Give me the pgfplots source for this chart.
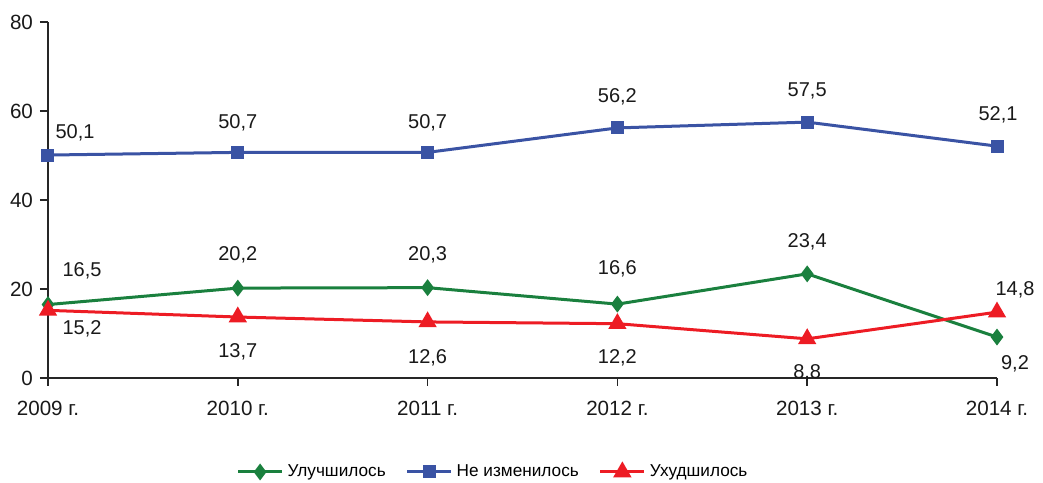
\documentclass[border=0pt]{standalone}
\usepackage{fontspec}
\setmainfont{Liberation Sans}
\usepackage{pgfplots}
\pgfplotsset{compat=1.18}
\definecolor{cgreen}{RGB}{26,128,62}
\definecolor{cblue}{RGB}{58,83,164}
\definecolor{cred}{RGB}{237,28,36}
\pgfplotsset{
  lbl/.style={
    nodes near coords,
    point meta=explicit symbolic,
    visualization depends on={\thisrow{dx}\as\dx},
    visualization depends on={\thisrow{dy}\as\dy},
    every node near coord/.append style={anchor=center, xshift=\dx pt, yshift=\dy pt, font=\fontsize{10}{11}\selectfont, text=black!90},
  },
}
\begin{document}
\begin{tikzpicture}
\begin{axis}[
  scale only axis,
  width=474.5pt, height=178pt,
  xmin=0, xmax=5, ymin=0, ymax=80,
  axis x line=bottom, axis y line=left,
  axis line style={-, line width=0.8pt, black!85},
  xtick={0,1,2,3,4,5},
  xticklabels={2009 г.,2010 г.,2011 г.,2012 г.,2013 г.,2014 г.},
  ytick={0,20,40,60,80},
  tick align=outside,
  major tick length=4pt,
  tick style={line width=0.8pt, black!85},
  tick label style={font=\fontsize{10.3}{11}\selectfont, text=black!90},
  xticklabel style={yshift=-4pt},
  /pgf/number format/assume math mode=true,
  clip=false,
  legend columns=3,
  legend style={draw=none, fill=none, at={(0.47,0)}, anchor=center, yshift=-47pt,
    font=\fontsize{8.6}{10}\selectfont,
    /tikz/every even column/.append style={column sep=8pt}},
  legend cell align=left,
  legend image code/.code={\draw[mark repeat=2,mark phase=2] plot coordinates {(0pt,0pt) (11pt,0pt) (22pt,0pt)};},
]
\addplot[color=cgreen, line width=1.5pt, mark=diamond*, mark size=3pt, mark options={solid, fill=cgreen}, lbl]
table[x=x, y=y, meta=lab] {
x y lab dx dy
0 16.5 16,5 17 17
1 20.2 20,2 0 16.5
2 20.3 20,3 0 16.5
3 16.6 16,6 0 17.5
4 23.4 23,4 0 16
5 9.2 9,2 9 -13.5
};
\addlegendentry{Улучшилось}
\addplot[color=cblue, line width=1.5pt, mark=square*, mark size=2.5pt, mark options={solid, fill=cblue}, lbl]
table[x=x, y=y, meta=lab] {
x y lab dx dy
0 50.1 50,1 13.5 11
1 50.7 50,7 0 15
2 50.7 50,7 0 15
3 56.2 56,2 0 15.5
4 57.5 57,5 0 15.5
5 52.1 52,1 0.5 15.5
};
\addlegendentry{Не изменилось}
\addplot[color=cred, line width=1.5pt, mark=triangle*, mark size=3.8pt, mark options={solid, fill=cred}, lbl]
table[x=x, y=y, meta=lab] {
x y lab dx dy
0 15.2 15,2 17 -9
1 13.7 13,7 0 -17.5
2 12.6 12,6 0 -18
3 12.2 12,2 0 -17
4 8.8 8,8 0 -17
5 14.8 14,8 9 11
};
\addlegendentry{Ухудшилось}
\end{axis}
\pgfresetboundingbox
\path (current axis.south west) ++(-24pt,-52.5pt) coordinate (bl);
\path (current axis.north east) ++(23pt,11pt) coordinate (tr);
\useasboundingbox (bl) rectangle (tr);
\end{tikzpicture}
\end{document}
